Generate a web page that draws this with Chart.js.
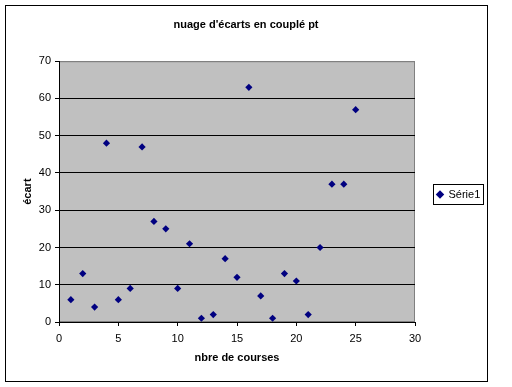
<!DOCTYPE html>
<html>
<head>
<meta charset="utf-8">
<script src="https://cdn.jsdelivr.net/npm/chart.js@4/dist/chart.umd.min.js"></script>
<style>
  body { margin: 0; background: #fff; }
</style>
</head>
<body>
<canvas id="myChart" width="512" height="387"></canvas>
<script>
const courses = [1, 2, 3, 4, 5, 6, 7, 8, 9, 10, 11, 12, 13, 14, 15, 16, 17, 18, 19, 20, 21, 22, 23, 24, 25];
const ecarts = [6, 13, 4, 48, 6, 9, 47, 27, 25, 9, 21, 1, 2, 17, 12, 63, 7, 1, 13, 11, 2, 20, 37, 37, 57];
const seriesName = "Série1";
const chartTitle = "nuage d'écarts en couplé pt";
const xTitle = "nbre de courses";
const yTitle = "écart";

const points = courses.map((c, i) => ({ x: c, y: ecarts[i] }));
const font = "'Liberation Sans', Arial, sans-serif";

// gray plot area, outer frame, legend frame
const decor = {
  id: "decor",
  beforeLayout(chart) {
    const legend = chart.legend;
    if (legend && !legend._fixed) {
      const fit = legend.fit.bind(legend);
      legend.fit = function () {
        fit();
        this.width = 72;
      };
      legend._fixed = true;
    }
  },
  afterLayout(chart) {
    // push legend down a little, like the original
    chart.legend.top += 10;
    chart.legend.bottom += 10;
  },
  beforeDraw(chart) {
    const { ctx, chartArea: a } = chart;
    ctx.save();
    ctx.fillStyle = "#c0c0c0";
    ctx.fillRect(a.left, a.top, a.right - a.left, a.bottom - a.top);
    ctx.strokeStyle = "#808080";
    ctx.lineWidth = 1;
    ctx.strokeRect(a.left + 0.5, a.top + 0.5, a.right - a.left - 1, a.bottom - a.top - 1);
    ctx.restore();
  },
  afterDraw(chart) {
    const ctx = chart.ctx;
    ctx.save();
    ctx.strokeStyle = "#000";
    ctx.lineWidth = 1;
    ctx.strokeRect(5.5, 5.5, 482, 376);
    const hb = chart.legend.legendHitBoxes[0];
    if (hb) {
      const l = Math.round(hb.left) - 3.5;
      const t = Math.round(hb.top) - 4.5;
      ctx.strokeRect(l, t, Math.round(hb.width) + 7, Math.round(hb.height) + 9);
    }
    ctx.restore();
  }
};

const ctx = document.getElementById("myChart").getContext("2d");
const chart = new Chart(ctx, {
  type: "scatter",
  data: {
    datasets: [
      {
        label: seriesName,
        data: points,
        pointStyle: "rectRot",
        pointRadius: 3.6,
        backgroundColor: "#000080",
        borderColor: "#000080",
        borderWidth: 0,
      },
    ],
  },
  options: {
    responsive: false,
    animation: false,
    layout: { padding: { left: 5, right: 25, top: 0, bottom: 18 } },
    plugins: {
      title: {
        display: true,
        text: chartTitle,
        color: "#000",
        font: { family: font, size: 11, weight: "bold" },
        padding: { top: 18, bottom: 30 },
      },
      legend: {
        position: "right",
        labels: {
          usePointStyle: true,
          boxWidth: 6,
          boxHeight: 6,
          padding: 22,
          color: "#000",
          font: { family: font, size: 11 },
        },
      },
      tooltip: { enabled: false },
    },
    scales: {
      x: {
        type: "linear",
        min: 0,
        max: 30,
        afterFit: (s) => { s.height = 47; },
        ticks: { stepSize: 5, color: "#000", padding: 6, font: { family: font, size: 11 } },
        grid: { drawOnChartArea: false, tickLength: 4, tickColor: "#000" },
        border: { color: "#000" },
        title: { display: true, text: xTitle, color: "#000", font: { family: font, size: 11, weight: "bold" } },
      },
      y: {
        min: 0,
        max: 70,
        afterFit: (s) => { s.width = 54; },
        ticks: { stepSize: 10, color: "#000", padding: 4, font: { family: font, size: 11 } },
        grid: {
          color: (c) => (c.tick && c.tick.value === 70 ? "#808080" : "#000"),
          tickLength: 4,
          tickColor: "#000",
        },
        border: { color: "#000" },
        title: {
          display: true,
          text: yTitle,
          color: "#000",
          padding: { top: 16, bottom: 4 },
          font: { family: font, size: 11, weight: "bold" },
        },
      },
    },
  },
  plugins: [decor],
});
</script>
</body>
</html>
